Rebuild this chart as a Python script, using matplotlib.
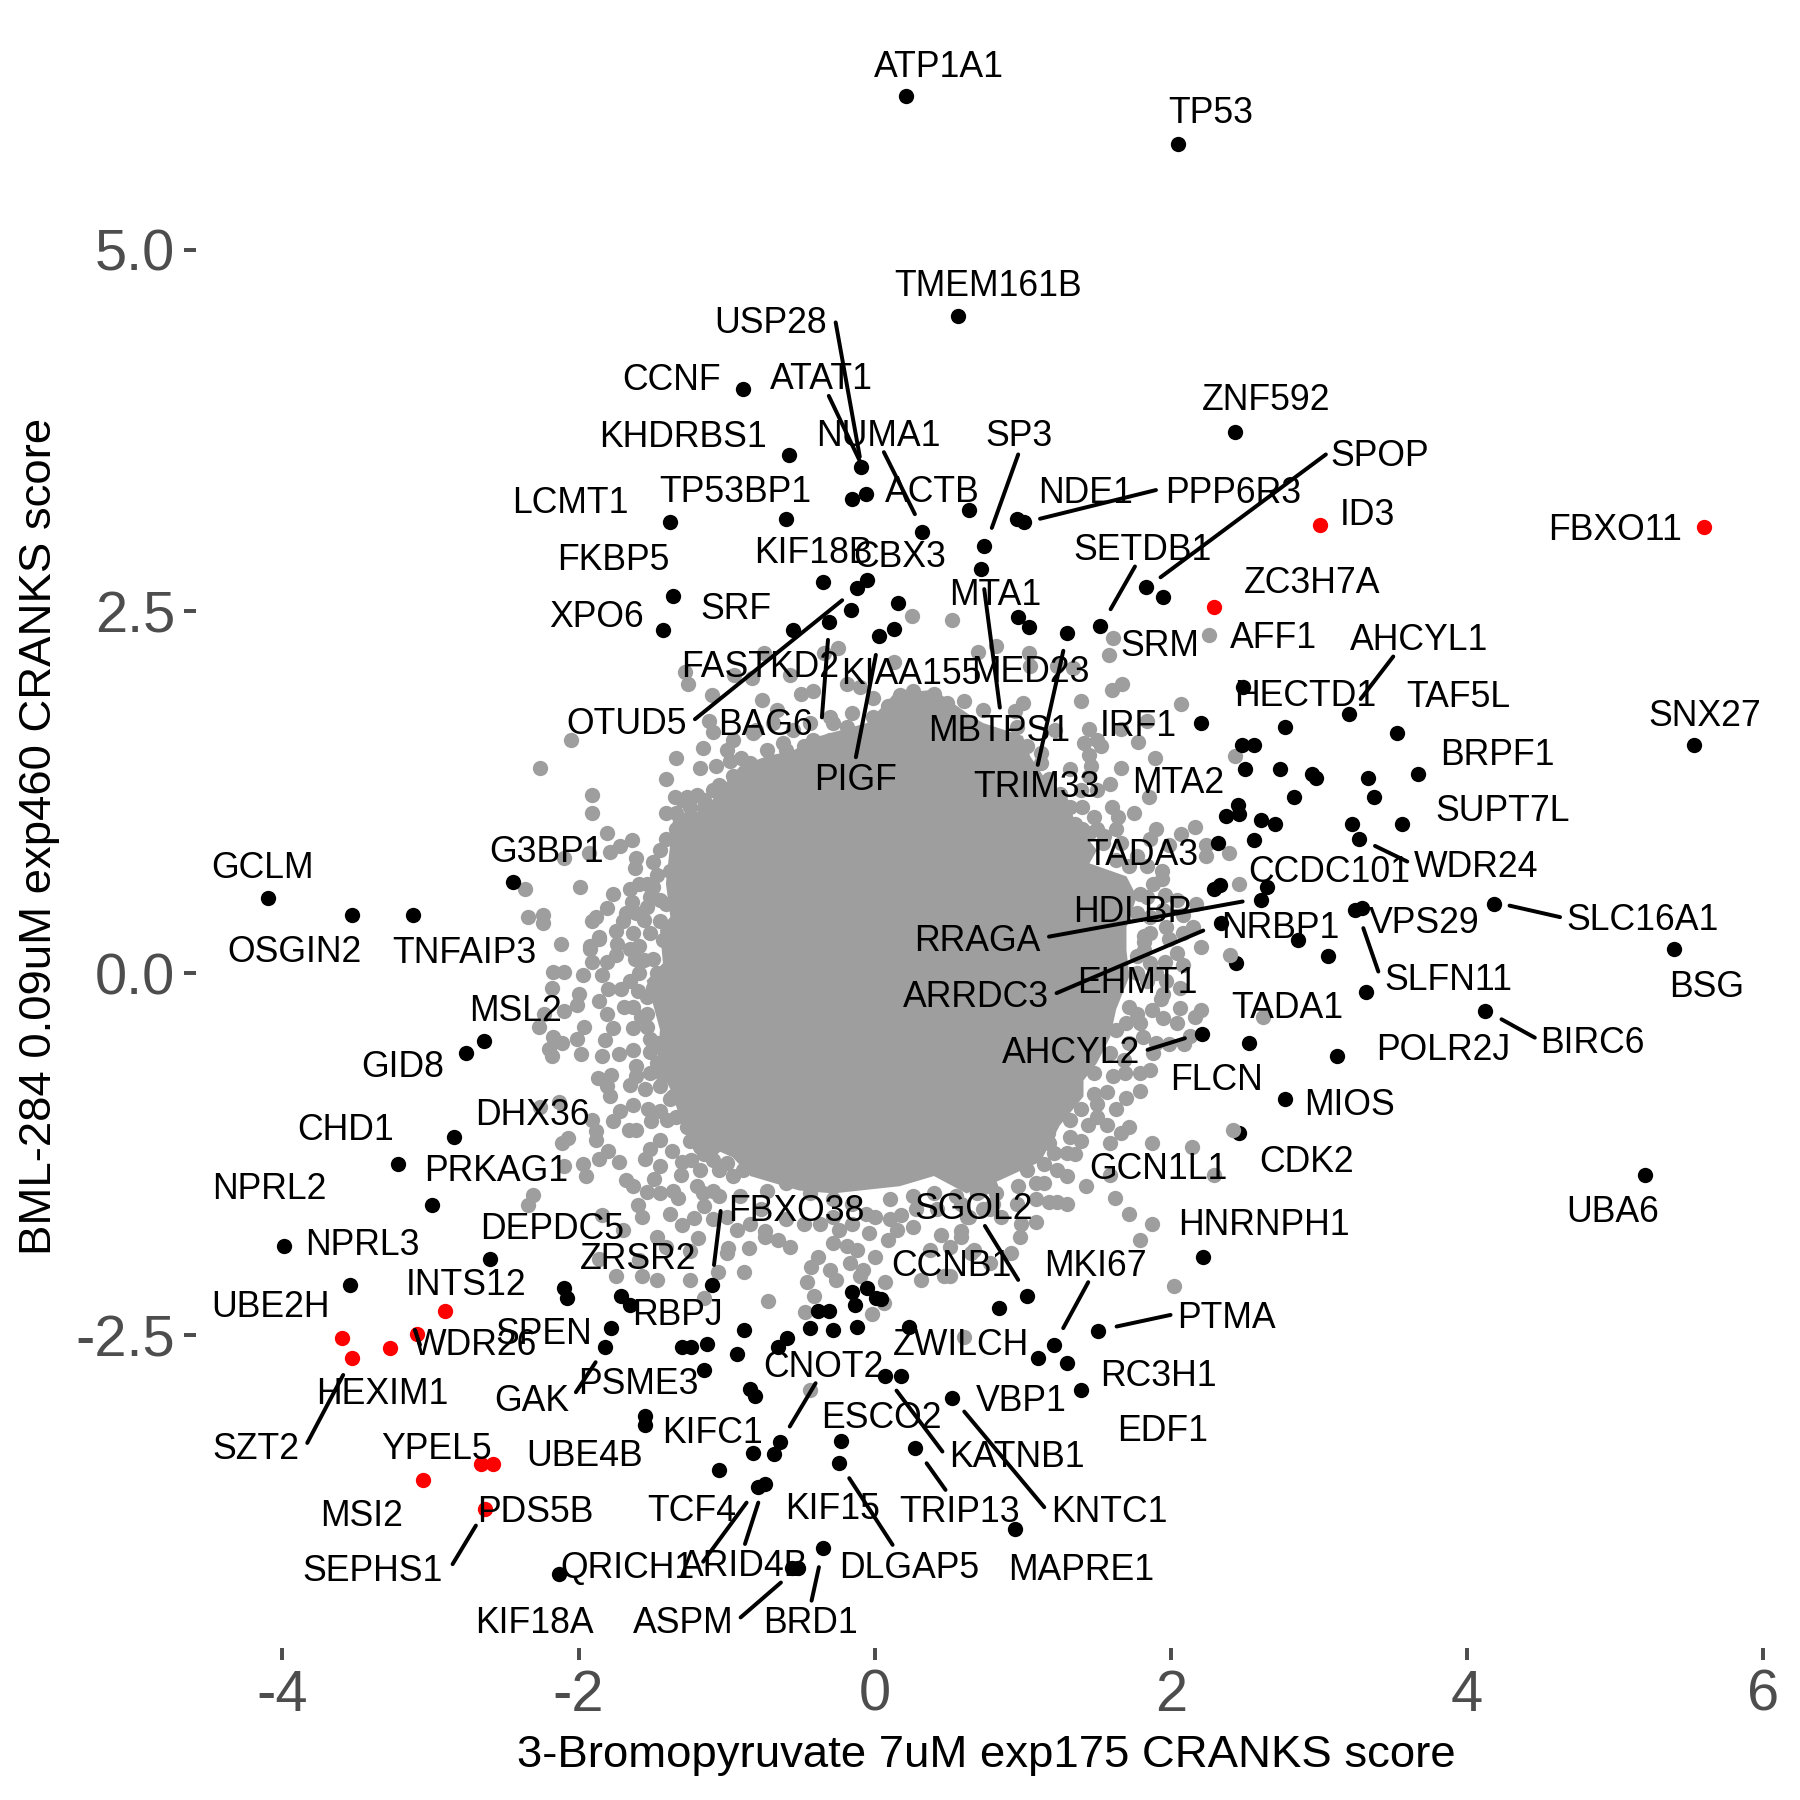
import matplotlib
matplotlib.use("Agg")
import matplotlib.pyplot as plt

plt.rcParams['font.family'] = ['Liberation Sans', 'DejaVu Sans']

GREY = '#9E9E9E'
RED = '#FF0000'
TICK = '#4D4D4D'

# Solid centre of the overplotted grey cloud (outline)
core_x = [-0.91,-0.73,-0.55,-0.37,-0.05,0.13,0.40,0.62,0.73,1.00,1.05,1.14,1.30,1.35,1.50,1.45,1.70,1.77,1.70,1.70,1.72,1.63,1.59,1.50,1.41,1.41,1.25,1.12,0.80,0.62,0.40,0.17,-0.28,-0.51,-0.84,-0.96,-1.27,-1.38,-1.47,-1.45,-1.54,-1.43,-1.45,-1.38,-1.41,-1.38,-1.36,-1.14,-1.07]
core_y = [1.43,1.50,1.54,1.64,1.73,1.93,1.96,1.80,1.73,1.64,1.50,1.36,1.22,1.05,0.85,0.76,0.67,0.53,0.32,0.16,-0.02,-0.25,-0.44,-0.62,-0.74,-0.85,-1.05,-1.30,-1.45,-1.52,-1.40,-1.47,-1.52,-1.50,-1.40,-1.27,-1.13,-0.80,-0.62,-0.39,-0.05,0.07,0.30,0.39,0.62,0.90,1.08,1.13,1.24]

grey_upper_left = [(0.25,2.47),(0.52,2.44),(-0.25,2.25),(-0.34,2.21),(-0.75,2.21),(0.13,2.15),(0.70,2.22),(-1.28,2.08),(-1.26,2.00),(-1.10,1.92),(-0.95,2.06),(-0.83,2.04),(-0.57,2.06),(-0.19,2.00),(-0.10,1.98),(-0.01,1.90),(-0.50,1.93),(-0.42,1.95),(-0.76,1.89),(-0.66,1.82),(-0.15,1.80),(-0.30,1.77),(-0.19,1.70),(0.09,1.85),(0.17,1.92),(0.26,1.95),(0.40,1.93),(0.60,1.88),(0.49,1.87),(-1.12,1.74),(-1.09,1.67),(-0.96,1.61),(-0.82,1.66),(-1.16,1.56),(-1.34,1.49),(-2.05,1.61),(-2.26,1.42),(-1.18,1.42),(-1.07,1.43),(-0.98,1.47),(-0.90,1.49),(-0.62,1.59),(-0.48,1.57),(-0.30,1.61),(-1.41,1.34),(-1.09,1.27),(-0.96,1.36),(-1.91,1.23),(-1.91,1.11),(-1.35,1.22),(-1.20,1.23),(-1.41,1.11),(-1.15,1.14),(-1.03,1.15),(-1.34,1.00),(-1.25,1.08),(-1.41,0.93),(-1.81,0.97),(-1.64,0.92),(-1.72,0.88),(-1.79,0.84),(-2.10,0.80),(-1.93,0.83),(-1.61,0.80),(-1.62,0.73),(-1.50,0.77),(-1.47,0.68),(-1.38,0.71),(-2.36,0.58),(-1.99,0.60),(-1.65,0.58),(-1.77,0.55),(-1.64,0.49),(-1.45,0.51),(-1.54,0.46),(-2.34,0.39),(-2.24,0.40),(-2.24,0.35),(-1.81,0.45),(-1.88,0.39),(-1.91,0.36),(-1.70,0.36),(-1.61,0.42),(-1.45,0.36),(-2.12,0.20),(-1.75,0.29),(-1.86,0.24),(-1.92,0.19)]

grey_fringe_upper_left = [(-1.27,1.22),(-1.34,1.11),(-1.16,1.04),(-1.31,0.92),(-1.45,0.85),(-1.54,0.62),(-1.52,0.53),(-1.59,0.62),(-1.41,0.48),(-1.68,0.42),(-1.56,0.37),(-1.52,0.28),(-1.63,0.28),(-1.74,0.20),(-1.59,0.19),(-1.43,0.23),(-1.00,1.54),(-0.84,1.45),(-0.73,1.54),(-0.60,1.54),(-0.80,1.68),(-0.69,1.73),(-0.55,1.68),(-0.44,1.73),(-0.28,1.73),(-0.42,1.61),(-0.01,1.77),(0.08,1.73),(-1.15,1.20),(-1.05,1.30),(-0.95,1.25),(-1.25,1.15),(-1.30,1.20),(-1.50,0.10),(-1.62,0.10),(-1.50,0.60)]

grey_lower_left = [(-1.86,0.25),(-1.92,0.17),(-1.75,0.13),(-1.65,0.17),(-1.91,0.08),(-1.81,0.08),(-1.56,0.09),(-2.17,0.01),(-2.10,0.01),(-1.97,-0.01),(-1.84,-0.01),(-1.65,-0.05),(-2.18,-0.10),(-2.00,-0.14),(-1.80,-0.11),(-1.71,-0.11),(-2.01,-0.22),(-1.86,-0.19),(-1.69,-0.23),(-1.63,-0.23),(-1.81,-0.28),(-2.23,-0.28),(-2.10,-0.26),(-2.27,-0.37),(-1.96,-0.37),(-2.17,-0.44),(-2.01,-0.45),(-2.11,-0.48),(-1.77,-0.38),(-1.63,-0.38),(-1.82,-0.46),(-1.52,-0.45),(-2.20,-0.52),(-2.18,-0.57),(-1.98,-0.56),(-1.84,-0.57),(-1.73,-0.56),(-1.63,-0.53),(-1.52,-0.54),(-1.61,-0.64),(-1.78,-0.70),(-1.87,-0.72),(-1.52,-0.69),(-1.61,-0.71),(-1.65,-0.77),(-1.81,-0.78),(-1.79,-0.85),(-2.26,-0.92),(-2.13,-0.89),(-1.63,-0.91),(-1.53,-0.94),(-1.72,-0.95),(-1.38,-0.87),(-1.77,-1.02),(-1.51,-1.02),(-1.66,-1.08),(-1.61,-1.08),(-1.40,-1.01),(-1.91,-1.01),(-1.88,-1.09),(-1.88,-1.15),(-2.07,-1.14),(-2.11,-1.17),(-1.45,-1.15),(-1.52,-1.21),(-1.25,-1.16),(-1.80,-1.23),(-1.86,-1.28),(-1.73,-1.30),(-1.55,-1.28),(-1.45,-1.33),(-1.37,-1.23),(-1.24,-1.29),(-1.09,-1.29),(-1.97,-1.32),(-1.95,-1.40),(-2.10,-1.33),(-1.31,-1.39),(-1.18,-1.36),(-1.05,-1.36),(-0.96,-1.40),(-1.49,-1.42),(-1.68,-1.43),(-1.63,-1.47),(-1.54,-1.51),(-1.45,-1.52),(-1.36,-1.50),(-1.33,-1.55),(-1.16,-1.52),(-1.09,-1.50),(-2.31,-1.53),(-2.34,-1.60),(-1.60,-1.60),(-1.57,-1.68),(-1.38,-1.66),(-1.15,-1.61),(-1.22,-1.69),(-1.30,-1.74),(-1.84,-1.67),(-1.70,-1.77),(-1.47,-1.82),(-1.19,-1.83),(-1.41,-1.89),(-1.25,-1.92),(-1.86,-1.97),(-1.59,-1.98),(-1.75,-2.09),(-1.57,-2.09),(-1.47,-2.12),(-1.25,-2.12),(-1.06,-2.06),(-0.88,-2.06),(-1.00,-1.93),(-0.85,-1.90),(-0.93,-1.77),(-0.84,-1.73),(-0.74,-1.78),(-0.65,-1.84),(-0.57,-1.89),(-0.60,-1.70),(-0.48,-1.73),(-0.37,-1.73),(-0.72,-2.26),(-1.15,-2.24),(-0.24,-1.77),(-0.28,-1.86),(-0.19,-1.88),(-0.12,-1.91),(-0.38,-1.96),(-0.43,-2.03),(-0.30,-2.05),(-0.17,-2.00),(0.00,-1.96),(-0.08,-2.05),(-0.26,-2.12),(-0.10,-2.09),(0.07,-2.13),(-0.46,-2.13),(-0.41,-2.23),(-0.47,-2.34),(-0.02,-2.35),(0.06,-2.28),(-0.04,-1.79),(0.00,-1.68),(0.10,-1.56),(0.18,-1.67),(0.15,-1.77),(0.09,-1.84),(0.26,-1.75),(0.45,-1.81),(0.37,-1.91),(0.58,-1.78),(0.51,-1.89),(0.31,-2.12),(0.47,-2.09),(0.67,-1.91),(0.78,-1.47),(0.71,-1.50),(0.60,-2.51),(-0.44,-2.88),(-0.99,-1.90),(-0.74,-1.82)]

grey_fringe_bottom = [(-1.47,0.00),(-1.59,0.00),(-1.54,-0.16),(-1.54,-0.28),(-1.54,-0.37),(-1.47,-0.48),(-1.47,-0.62),(-1.43,-0.71),(-1.45,-0.78),(-1.36,-0.85),(-1.34,-0.99),(-1.27,-1.06),(-1.18,-1.20),(-1.09,-1.20),(-1.00,-1.31),(-0.89,-1.36),(-0.73,-1.50),(-0.60,-1.45),(-0.44,-1.52),(-0.28,-1.56),(-0.15,-1.59),(-0.06,-1.66),(0.26,-1.54),(0.40,-1.52),(0.55,-1.54),(0.28,-1.63),(0.42,-1.63),(0.62,-1.68),(0.73,-1.63),(0.80,-1.59),(-1.05,-1.54),(-0.91,-1.54),(-1.00,-1.68),(-1.09,-1.70),(-0.77,-1.63),(-0.28,-1.68),(-0.15,-1.73),(-1.20,-1.47),(0.10,-1.70),(-1.50,-0.10),(-1.60,-0.12),(-1.58,-0.30),(-1.45,-0.95),(-1.55,-0.80),(-1.30,-1.30),(-1.15,-1.25)]

grey_lower_right = [(1.82,0.22),(1.99,0.24),(2.20,0.18),(2.04,0.14),(1.96,0.08),(2.08,0.06),(1.82,0.16),(1.86,0.07),(2.06,-0.10),(1.95,-0.14),(1.77,0.00),(1.72,-0.23),(1.87,-0.25),(1.93,-0.18),(2.06,-0.24),(2.20,-0.25),(2.16,-0.30),(1.95,-0.31),(2.04,-0.34),(1.70,-0.34),(1.79,-0.34),(1.90,-0.48),(1.88,-0.55),(1.99,-0.49),(2.09,-0.49),(2.13,-0.43),(1.86,-0.67),(1.79,-0.69),(1.69,-0.69),(1.79,-0.81),(1.70,-0.86),(1.61,-0.71),(1.57,-0.82),(1.48,-0.69),(1.63,-0.94),(1.50,-0.90),(1.32,-1.01),(1.44,-1.05),(1.57,-1.05),(1.72,-1.06),(1.66,-1.10),(1.59,-1.17),(1.39,-1.16),(1.30,-1.24),(1.21,-1.24),(1.14,-1.32),(1.17,-1.10),(1.10,-1.15),(1.35,-1.25),(1.30,-1.40),(1.23,-1.36),(1.87,-1.17),(2.14,-1.20),(2.29,-1.39),(1.59,-1.39),(1.43,-1.47),(1.62,-1.55),(1.72,-1.66),(1.87,-1.73),(1.79,-1.84),(2.02,-2.16),(1.09,-1.45),(0.97,-1.47),(0.76,-1.43),(1.30,-1.59),(1.18,-1.58),(1.23,-1.58),(1.09,-1.56),(1.09,-1.72),(0.99,-1.73),(0.98,-1.82),(0.85,-1.68),(0.58,-1.82),(0.65,-1.93),(0.92,-1.93),(0.78,-2.00),(0.51,-2.09),(2.62,-0.30)]

grey_fringe_lower_right = [(0.58,-1.59),(0.69,-1.52),(0.82,-1.52),(0.96,-1.59),(0.64,-1.68),(0.78,-1.63),(1.03,-1.36),(1.18,-1.17),(1.27,-0.92),(1.39,-0.94),(1.48,-0.83),(1.50,-0.99),(1.32,-1.13),(1.14,-1.45),(1.59,-0.55),(1.68,-0.60),(1.72,-0.48),(1.81,-0.44),(1.63,-0.39),(1.77,-0.28),(1.84,-0.05),(1.90,0.00),(1.97,-0.05),(1.77,0.12)]

grey_upper_right = [(2.26,2.34),(1.61,2.32),(1.58,2.20),(1.67,2.00),(1.60,1.96),(1.39,1.88),(2.07,1.86),(0.82,2.26),(1.04,2.21),(1.05,2.12),(1.23,2.12),(1.34,2.11),(1.00,1.87),(0.95,1.81),(1.45,1.69),(1.66,1.69),(1.84,1.74),(1.50,1.61),(1.41,1.59),(1.78,1.60),(1.53,1.57),(1.45,1.51),(1.89,1.49),(2.43,1.50),(1.22,1.68),(1.03,1.57),(1.12,1.52),(1.66,1.42),(1.32,1.41),(1.46,1.43),(1.59,1.31),(1.50,1.27),(1.85,1.22),(1.60,1.15),(1.40,1.15),(1.25,1.15),(1.64,1.08),(1.75,1.11),(1.48,1.08),(1.35,1.03),(1.63,1.00),(1.90,1.00),(2.16,1.01),(2.07,0.96),(1.86,0.93),(2.24,0.89),(2.24,0.81),(2.39,0.83),(1.99,0.89),(1.94,0.71),(1.94,0.65),(1.72,0.74),(1.63,0.78),(2.46,0.62),(1.96,0.54),(2.17,0.48),(1.79,0.55),(2.08,0.40),(1.95,0.44),(2.15,0.32),(1.82,0.26),(1.86,0.39)]

grey_fringe_upper_right = [(1.12,1.45),(1.18,1.34),(1.25,1.24),(1.32,1.15),(1.39,1.27),(1.45,1.36),(1.05,1.41),(0.96,1.70),(0.89,1.61),(0.73,1.82),(1.45,0.97),(1.54,0.90),(1.66,0.90),(1.77,0.81),(1.84,0.74),(1.88,0.62),(1.84,0.53),(1.86,0.28),(1.77,0.42),(2.04,0.51),(1.97,0.32),(2.08,0.28),(1.40,1.00),(1.50,1.00),(1.55,0.95)]

# Two grey points that sit on top of black ones in the reference
grey_over_black = [(2.40,0.13),(2.42,-1.08)]

black_top = [(0.21,6.06),(2.05,5.73),(0.56,4.54),(2.43,3.74),(-0.89,4.04),(-0.58,3.58),(-0.09,3.50),(-0.15,3.28),(-0.06,3.31),(0.32,3.05),(0.64,3.20),(-0.60,3.14),(-1.38,3.12),(0.96,3.14),(1.01,3.12),(0.74,2.95),(0.72,2.79),(1.83,2.67),(1.95,2.60),(-1.36,2.61),(-1.43,2.37),(-0.35,2.70),(-0.05,2.72),(-0.12,2.66),(-0.16,2.51),(-0.55,2.37),(-0.31,2.43),(0.16,2.56),(0.13,2.38),(0.03,2.33),(0.97,2.46),(1.04,2.39),(1.30,2.35),(1.52,2.40)]

black_right = [(2.49,1.98),(2.20,1.73),(3.20,1.79),(2.77,1.70),(3.53,1.66),(2.48,1.58),(2.56,1.58),(2.50,1.41),(2.74,1.41),(2.95,1.38),(2.98,1.35),(3.33,1.35),(3.67,1.38),(2.83,1.22),(3.37,1.22),(2.45,1.16),(2.37,1.09),(2.46,1.10),(2.61,1.06),(2.70,1.03),(3.22,1.03),(3.56,1.03),(3.27,0.93),(2.32,0.90),(2.56,0.92),(2.65,0.60),(2.61,0.51),(2.33,0.61),(2.29,0.58),(3.24,0.44),(3.29,0.45),(2.34,0.35),(2.86,0.23),(5.53,1.58),(4.18,0.48),(5.40,0.17),(2.44,0.07),(3.06,0.12),(3.32,-0.13),(2.21,-0.42),(2.53,-0.48),(3.12,-0.57),(2.77,-0.87),(2.46,-1.10),(2.22,-1.96),(4.12,-0.26),(5.20,-1.39)]

black_left = [(-4.10,0.52),(-3.53,0.40),(-3.12,0.40),(-2.44,0.63),(-2.76,-0.55),(-2.64,-0.47),(-2.84,-1.13),(-3.22,-1.32),(-2.99,-1.60),(-3.99,-1.88),(-2.60,-1.97),(-3.54,-2.15),(-2.10,-2.17),(-2.08,-2.24),(-1.71,-2.23),(-1.65,-2.29),(-1.78,-2.45),(-1.82,-2.58),(-1.55,-3.06),(-1.55,-3.12),(-2.13,-4.15)]

black_bottom = [(-1.10,-2.15),(-0.88,-2.46),(-1.13,-2.56),(-1.30,-2.58),(-1.24,-2.58),(-0.93,-2.63),(-1.15,-2.74),(-0.84,-2.87),(-0.81,-2.92),(-0.59,-2.52),(-0.65,-2.58),(-0.44,-2.45),(-0.28,-2.46),(-0.12,-2.44),(-0.38,-2.33),(-0.31,-2.33),(-0.15,-2.20),(-0.13,-2.29),(-0.05,-2.17),(0.01,-2.24),(0.04,-2.25),(0.23,-2.44),(0.84,-2.31),(1.03,-2.23),(1.21,-2.57),(1.10,-2.66),(1.30,-2.69),(1.51,-2.47),(1.39,-2.88),(0.07,-2.78),(0.18,-2.78),(0.52,-2.93),(-0.23,-3.23),(-0.24,-3.38),(0.27,-3.28),(-0.64,-3.24),(-0.68,-3.32),(-0.82,-3.31),(-1.05,-3.43),(-0.79,-3.55),(-0.74,-3.53),(0.95,-3.84),(-0.35,-3.97),(-0.56,-4.11),(-0.52,-4.11)]

red_points = [(3.01,3.10),(5.60,3.08),(2.29,2.53),(-2.90,-2.33),(-3.09,-2.49),(-3.60,-2.52),(-3.53,-2.66),(-3.27,-2.59),(-2.66,-3.39),(-2.58,-3.39),(-3.05,-3.50),(-2.63,-3.70)]

# Gene labels and where they sit (position on the 1568-wide reference view)
label_names = ['ATP1A1','TP53','TMEM161B','ZNF592','USP28','CCNF','ATAT1','KHDRBS1','NUMA1','SP3','SPOP','ACTB','TP53BP1','NDE1','PPP6R3','LCMT1','ID3','FBXO11','KIF18B','CBX3','FKBP5','SETDB1','ZC3H7A','MTA1','SRF','XPO6','AFF1','AHCYL1','SRM','FASTKD2','KIAA155','MED23','HECTD1','TAF5L','OTUD5','BAG6','IRF1','MBTPS1','SNX27','BRPF1','PIGF','TRIM33','MTA2','SUPT7L','TADA3','G3BP1','GCLM','WDR24','CCDC101','HDLBP','SLC16A1','VPS29','NRBP1','RRAGA','OSGIN2','TNFAIP3','EHMT1','SLFN11','ARRDC3','BSG','MSL2','TADA1','BIRC6','POLR2J','AHCYL2','GID8','FLCN','MIOS','DHX36','CHD1','CDK2','PRKAG1','GCN1L1','NPRL2','UBA6','FBXO38','SGOL2','HNRNPH1','DEPDC5','NPRL3','ZRSR2','CCNB1','MKI67','INTS12','UBE2H','RBPJ','PTMA','SPEN','WDR26','ZWILCH','CNOT2','RC3H1','PSME3','HEXIM1','GAK','VBP1','KIFC1','EDF1','ESCO2','SZT2','YPEL5','UBE4B','KATNB1','KIF15','TCF4','TRIP13','PDS5B','KNTC1','MSI2','QRICH1','ARID4B','DLGAP5','MAPRE1','SEPHS1','KIF18A','ASPM','BRD1']
label_px = [818,1055,861,1103,671,585,716,595,765,888,1202,812,641,946,1074,497,1191,1407,709,784,534,995,1143,867,641,520,1109,1236,1010,662,794,898,1137,1270,546,667,992,870,1485,1304,745,903,1026,1309,995,476,229,1286,1158,986,1431,1241,1115,851,257,405,991,1262,850,1487,449,1121,1387,1257,933,351,1060,1176,464,301,1138,432,1009,235,1405,694,848,1101,481,316,556,829,954,406,236,590,1068,474,414,837,717,1009,556,333,463,890,621,1013,768,223,380,509,886,725,603,836,466,966,315,547,648,792,942,325,466,595,706]
label_py = [56,96,247,346,279,329,328,378,377,377,395,426,426,427,427,436,446,459,479,483,485,477,505,516,528,535,553,555,560,579,585,583,604,605,628,629,630,634,621,655,677,683,680,704,742,740,754,753,757,792,799,802,806,817,827,828,854,851,866,857,878,876,906,912,915,927,938,960,969,982,1010,1018,1016,1033,1053,1052,1051,1065,1068,1082,1094,1100,1100,1117,1136,1143,1146,1160,1169,1169,1188,1196,1203,1212,1218,1218,1246,1244,1233,1260,1260,1266,1267,1312,1314,1315,1315,1315,1318,1363,1362,1363,1365,1366,1411,1411,1411]

# Leader segments (x0, y0, x1, y1 on the same reference view)
leaders = [(728,281,749,398),(722,345,752,408),(770,394,797,448),(887,396,864,460),(1155,396,1011,503),(1007,427,906,452),(988.7,493.6,967.5,530.8),(733.7,523,605.4,626.6),(721.3,557.5,716,625),(763,570.6,745.6,659.7),(857.4,513.3,871,616.5),(926.3,567,904,666.4),(1213.7,572,1185.3,609),(1197.8,737,1225.9,750.6),(913.8,816,1082.5,785.4),(920.4,865.2,1048.2,810.7),(1187.6,808.6,1200.7,846.4),(1315,789,1359,799),(1308,888,1337,904),(999.7,914.6,1032.2,904.5),(972.7,1155.6,1019.7,1145.5),(948,1117,926.2,1157),(858,1068,887,1115),(627.8,1055,622,1102),(267.7,1257,299,1197.8),(394.3,1362.6,414.6,1329),(501.7,1212.8,518.9,1186.7),(361.5,1158.5,365.9,1171.6),(710.5,1205,688,1242.7),(781,1211.4,821,1264.5),(840,1229.7,909.7,1313),(807.2,1274.7,823.7,1297.9),(739.8,1287.7,777.6,1345.8),(660.6,1309,649,1345),(650.4,1309,612.6,1360.4),(680.3,1378.6,645.2,1409),(713.4,1365.2,707,1394.4)]

x_ticks = [-4, -2, 0, 2, 4, 6]
x_ticklabels = ['-4', '-2', '0', '2', '4', '6']
y_ticks = [-2.5, 0.0, 2.5, 5.0]
y_ticklabels = ['-2.5', '0.0', '2.5', '5.0']


def ref_x(px):
    return (px - 762) / 129.0


def ref_y(py):
    return (848 - py) / 126.1


def unzip(points):
    return [p[0] for p in points], [p[1] for p in points]


fig = plt.figure(figsize=(6, 6), dpi=300)
ax = fig.add_axes([196 / 1800, 1 - 1648 / 1800, 1584 / 1800, 1633 / 1800])
ax.set_xlim(-4.583, 6.113)
ax.set_ylim(-4.66, 6.62)

MS = 13.5
ax.fill(core_x, core_y, color=GREY, lw=0, zorder=1)
for pts in (grey_upper_left, grey_fringe_upper_left, grey_lower_left, grey_fringe_bottom,
            grey_lower_right, grey_fringe_lower_right, grey_upper_right,
            grey_fringe_upper_right):
    xs, ys = unzip(pts)
    ax.scatter(xs, ys, s=MS, c=GREY, linewidths=0, zorder=1)
for pts in (black_top, black_right, black_left, black_bottom):
    xs, ys = unzip(pts)
    ax.scatter(xs, ys, s=MS, c='black', linewidths=0, zorder=2)
xs, ys = unzip(grey_over_black)
ax.scatter(xs, ys, s=MS, c=GREY, linewidths=0, zorder=3)
xs, ys = unzip(red_points)
ax.scatter(xs, ys, s=MS, c=RED, linewidths=0, zorder=3)

for x0, y0, x1, y1 in leaders:
    ax.plot([ref_x(x0), ref_x(x1)], [ref_y(y0), ref_y(y1)], color='black', lw=0.95,
            solid_capstyle='round', zorder=4)

for name, px, py in zip(label_names, label_px, label_py):
    ax.text(ref_x(px), ref_y(py - 0.5), name, fontsize=8.55, color='black', ha='center',
            va='center_baseline', zorder=5, clip_on=False)

for side in ax.spines.values():
    side.set_visible(False)
ax.set_xticks(x_ticks, x_ticklabels)
ax.set_yticks(y_ticks, y_ticklabels)
ax.tick_params(axis='both', length=2.9, width=0.95, color=TICK, labelcolor=TICK,
               labelsize=13.9, pad=2.1)

ax.set_xlabel('3-Bromopyruvate 7uM exp175 CRANKS score', fontsize=10.92, color='black')
ax.xaxis.set_label_coords(0.4989, -0.0657)
ax.xaxis.label.set_va('center')
ax.set_ylabel('BML-284 0.09uM exp460 CRANKS score', fontsize=10.92, color='black')
ax.yaxis.set_label_coords(-0.0985, 0.497)
ax.yaxis.label.set_va('center')

fig.savefig('out.png', dpi=300, facecolor='white')
